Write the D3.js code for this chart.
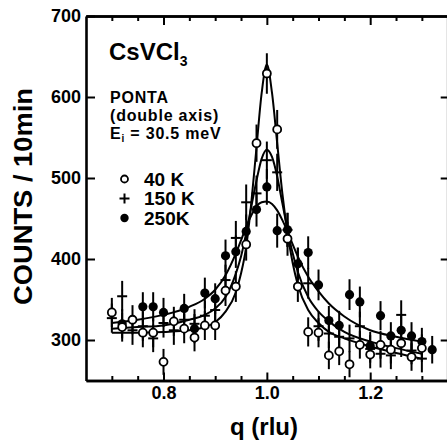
<!DOCTYPE html>
<html><head><meta charset="utf-8">
<script src="https://cdn.jsdelivr.net/npm/d3@7/dist/d3.min.js"></script>
<style>
html,body{margin:0;padding:0;background:#fff;}
text{font-family:"Liberation Sans",Arial,Helvetica,sans-serif;font-weight:bold;fill:#000;}
</style></head>
<body><svg id="c" width="447" height="442"></svg>
<script>
// ---- data ----
const q40 = [0.70,0.72,0.74,0.76,0.78,0.80,0.82,0.84,0.86,0.88,0.90,0.92,0.94,0.96,0.98,1.00,1.02,1.04,1.06,1.08,1.10,1.12,1.14,1.16,1.18,1.20,1.22,1.24,1.26,1.28,1.30];
const c40 = [334,316,325,309,309,273,323,314,303,318,318,361,366,418,543,629,560,425,366,310,309,281,286,270,294,282,294,288,296,279,290];
const e40 = [18,18,18,18,18,16,18,18,17,18,18,19,19,20,23,25,24,21,19,18,18,17,17,16,17,17,17,17,17,17,17];

const q150 = [0.70,0.72,0.74,0.76,0.78,0.80,0.82,0.84,0.86,0.88,0.90,0.92,0.94,0.96,0.98,1.00,1.02,1.04,1.06,1.08,1.10,1.12,1.14,1.16,1.18,1.20,1.22,1.24,1.26,1.28,1.30];
const c150 = [327,354,312,317,302,321,312,325,320,330,337,374,426,470,481,522,507,436,394,370,317,308,304,302,317,289,283,281,331,287,277];
const e150 = [18,19,18,18,17,18,18,18,18,18,18,19,21,22,22,23,23,21,20,19,18,18,17,17,18,17,17,17,18,17,17];

const q250 = [0.72,0.76,0.78,0.80,0.84,0.86,0.88,0.90,0.92,0.94,0.96,0.98,1.00,1.02,1.04,1.06,1.08,1.10,1.12,1.14,1.16,1.18,1.20,1.22,1.24,1.26,1.28,1.30,1.32];
const c250 = [320,341,341,334,339,314,358,351,404,409,434,461,489,435,436,394,408,368,324,318,356,347,293,330,305,312,305,298,288];
const e250 = [18,18,18,18,18,18,19,19,20,20,21,21,22,21,21,20,20,19,18,18,19,19,17,18,17,18,17,17,17];

// fitted curves
const fitQ   = [0.70,0.75,0.80,0.85,0.88,0.90,0.92,0.94,0.95,0.96,0.97,0.98,0.99,1.00,1.01,1.02,1.03,1.04,1.05,1.06,1.08,1.10,1.12,1.15,1.20,1.25,1.30];
const fit40  = [309,309,310,312,316,322,335,359,382,415,470,538,605,640,605,543,481,432,395,368,337,321,310,302,292,284,277];
const fit150 = [314,316,318,325,331,339,353,382,403,432,465,497,524,535,526,502,469,436,407,384,353,335,323,310,298,290,283];
const fit250 = [321,325,331,341,351,362,380,407,423,440,454,465,470,471,468,460,448,434,418,403,378,360,345,329,312,304,298];

const xMajor = [0.8,1.0,1.2];
const xMinor = [0.70,0.75,0.85,0.90,0.95,1.05,1.10,1.15,1.25,1.30];
const yMajor = [300,400,500,600,700];
const yRight = [300,400,500,600];

// ---- chart ----
const svg = d3.select("#c");
const x = d3.scaleLinear().domain([0.65,1.35]).range([86,447.7]);
const y = d3.scaleLinear().domain([250,700]).range([380.5,16]);

const plot = svg.append("g");

// curves
const line = d3.line().x((d,i)=>x(fitQ[i])).y(d=>y(d)).curve(d3.curveMonotoneX);
[fit40,fit150,fit250].forEach(f=>{
  plot.append("path").attr("d",line(f)).attr("fill","none").attr("stroke","#000").attr("stroke-width",2);
});

function series(qs, cs, es, kind){
  const g = plot.append("g");
  qs.forEach((q,i)=>{
    g.append("line").attr("x1",x(q)).attr("x2",x(q))
      .attr("y1",y(cs[i]-es[i])).attr("y2",y(cs[i]+es[i]))
      .attr("stroke","#000").attr("stroke-width",2);
  });
  qs.forEach((q,i)=>{
    if(kind==="open"){
      g.append("circle").attr("cx",x(q)).attr("cy",y(cs[i])).attr("r",4)
        .attr("fill","#fff").attr("stroke","#000").attr("stroke-width",1.8);
    } else if(kind==="filled"){
      g.append("circle").attr("cx",x(q)).attr("cy",y(cs[i])).attr("r",4.6).attr("fill","#000");
    } else {
      g.append("line").attr("x1",x(q)-5).attr("x2",x(q)+5)
        .attr("y1",y(cs[i])).attr("y2",y(cs[i])).attr("stroke","#000").attr("stroke-width",2);
    }
  });
}
series(q150,c150,e150,"plus");
series(q250,c250,e250,"filled");
series(q40,c40,e40,"open");

// axes
function styleAxis(g){
  g.select(".domain").attr("stroke-width",2.6);
  g.selectAll(".tick line").attr("stroke-width",2);
  g.selectAll("text").style("font-size","18px").style("font-family","'Liberation Sans',Arial,sans-serif").style("font-weight","bold");
}
const fmtX = d3.format(".1f");
svg.append("g").attr("transform","translate(0,380.5)")
  .call(d3.axisBottom(x).tickValues(xMajor).tickSize(-8).tickSizeOuter(0).tickPadding(6).tickFormat(fmtX)).call(styleAxis);
svg.append("g").attr("transform","translate(0,380.5)")
  .call(d3.axisBottom(x).tickValues(xMinor).tickSize(-4.5).tickSizeOuter(0).tickFormat("")).call(styleAxis);
svg.append("g").attr("transform","translate(0,16)")
  .call(d3.axisTop(x).tickValues(xMajor).tickSize(-9).tickSizeOuter(0).tickFormat("")).call(styleAxis);
svg.append("g").attr("transform","translate(0,16)")
  .call(d3.axisTop(x).tickValues(xMinor).tickSize(-5).tickSizeOuter(0).tickFormat("")).call(styleAxis);
svg.append("g").attr("transform","translate(86,0)")
  .call(d3.axisLeft(y).tickValues(yMajor).tickSize(-9).tickSizeOuter(0).tickPadding(5).tickFormat(d3.format("d"))).call(styleAxis);
svg.append("g").attr("transform","translate(447.7,0)")
  .call(d3.axisRight(y).tickValues(yRight).tickSize(-7).tickSizeOuter(0).tickFormat("")).call(styleAxis);

// axis titles
svg.append("text").attr("x",264).attr("y",435).attr("text-anchor","middle")
  .style("font-size","24px").text("q (rlu)");
svg.append("text").attr("transform","translate(32,196.5) rotate(-90)").attr("text-anchor","middle")
  .attr("textLength",217).attr("lengthAdjust","spacingAndGlyphs")
  .style("font-size","25px").text("COUNTS / 10min");

// annotations
const t1 = svg.append("text").attr("x",109).attr("y",59.5).style("font-size","24px");
t1.append("tspan").text("CsVCl");
t1.append("tspan").attr("dy",6).style("font-size","14px").text("3");

svg.append("text").attr("x",110).attr("y",102.5).style("font-size","16px").style("letter-spacing","0.8px").text("PONTA");
svg.append("text").attr("x",110).attr("y",120.5).style("font-size","16px").style("letter-spacing","0.8px").text("(double axis)");
const t2 = svg.append("text").attr("x",110).attr("y",138.5).style("font-size","16px").style("letter-spacing","0.8px");
t2.append("tspan").text("E");
t2.append("tspan").attr("dy",3.5).style("font-size","10px").text("i");
t2.append("tspan").attr("dy",-3.5).text(" = 30.5 meV");

// legend
const legend = [["open","40 K"],["plus","150 K"],["filled","250K"]];
legend.forEach((d,i)=>{
  const yy = 179 + i*19.5;
  if(d[0]==="open") svg.append("circle").attr("cx",124.5).attr("cy",yy).attr("r",3.5).attr("fill","#fff").attr("stroke","#000").attr("stroke-width",1.8);
  else if(d[0]==="filled") svg.append("circle").attr("cx",124.5).attr("cy",yy).attr("r",4.2).attr("fill","#000");
  else {
    svg.append("line").attr("x1",119.5).attr("x2",129.5).attr("y1",yy).attr("y2",yy).attr("stroke","#000").attr("stroke-width",2);
    svg.append("line").attr("x1",124.5).attr("x2",124.5).attr("y1",yy-5).attr("y2",yy+5).attr("stroke","#000").attr("stroke-width",2);
  }
  svg.append("text").attr("x",144).attr("y",yy+6.5).style("font-size","19px").text(d[1]);
});
</script></body></html>
